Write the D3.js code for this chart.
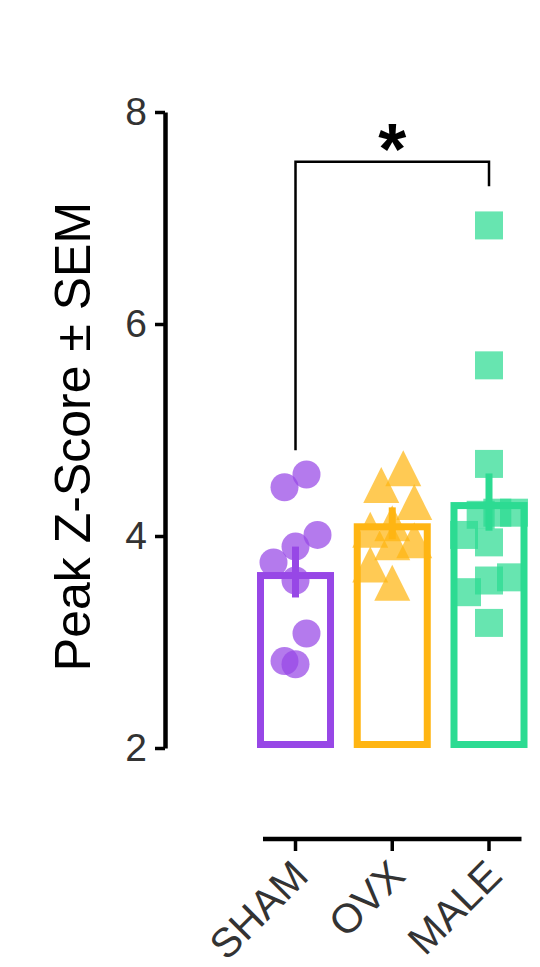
<!DOCTYPE html>
<html>
<head>
<meta charset="utf-8">
<script src="https://cdn.jsdelivr.net/npm/d3@7"></script>
<style>
  html, body { margin: 0; padding: 0; background: #fff; }
  svg { display: block; font-family: "Liberation Sans", Arial, sans-serif; }
</style>
</head>
<body>
<div id="chart"></div>
<script>
// data
const groups = ["SHAM", "OVX", "MALE"];
const shamValues = [4.58, 4.46, 4.01, 3.90, 3.75, 3.58, 3.08, 2.82, 2.79];
const ovxValues = [4.64, 4.48, 4.32, 4.12, 4.06, 3.96, 3.94, 3.73, 3.56];
const maleValues = [6.93, 5.61, 4.68, 4.22, 4.22, 4.20, 4.01, 3.94, 3.61, 3.58, 3.47, 3.18];
const means = [3.66, 4.12, 4.32];
const sems = [0.24, 0.15, 0.27];
const yTicks = [2, 4, 6, 8];
const bracketLevels = [4.81, 7.53, 7.30]; // left leg end, top, right leg end
const yLabel = "Peak Z-Score \u00B1 SEM";

const width = 540, height = 967;
const colors = ["#9747e6", "#ffb512", "#2cdb92"];
const shapes = ["circle", "triangle", "square"];
const valuesByGroup = [shamValues, ovxValues, maleValues];

const svg = d3.select("#chart")
  .append("svg")
  .attr("width", width)
  .attr("height", height);

const y = d3.scaleLinear().domain([2, 8]).range([748, 112]);

const x = d3.scaleBand()
  .domain(groups)
  .range([247.13, 537.38])
  .paddingInner(0.204)
  .paddingOuter(0.102);

const bw = x.bandwidth();
const cx = g => x(g) + bw / 2;

// simple row dodge: points in the same row get spread out, low values to the left
function dodge(values, rowH, spacing, maxSpread) {
  const pts = values.map(v => ({ v, py: y(v) })).sort((a, b) => a.py - b.py);
  const rows = [];
  pts.forEach(p => {
    const last = rows[rows.length - 1];
    if (last && p.py - last[0].py < rowH) last.push(p);
    else rows.push([p]);
  });
  rows.forEach(row => {
    row.sort((a, b) => a.v - b.v);
    const n = row.length;
    const step = n > 1 ? Math.min(spacing, maxSpread / (n - 1)) : 0;
    row.forEach((p, i) => { p.dx = (i - (n - 1) / 2) * step; });
  });
  return pts;
}

function shapePath(shape) {
  if (shape === "circle") return d3.symbol(d3.symbolCircle, Math.PI * 14 * 14)();
  if (shape === "square") return d3.symbol(d3.symbolSquare, 28 * 28)();
  // triangle centred on its bounding box
  const w = 36, h = 36;
  return `M0,${-h / 2}L${w / 2},${h / 2}L${-w / 2},${h / 2}Z`;
}

// points
groups.forEach((g, i) => {
  const pts = dodge(valuesByGroup[i], 28, 22, 50);
  svg.append("g")
    .selectAll("path")
    .data(pts)
    .enter()
    .append("path")
    .attr("d", shapePath(shapes[i]))
    .attr("transform", d => `translate(${cx(g) + d.dx},${d.py})`)
    .attr("fill", colors[i])
    .attr("fill-opacity", 0.72);
});

// bars (outline, stroke kept inside the bar)
const sw = 7;
svg.append("g")
  .selectAll("rect")
  .data(groups)
  .enter()
  .append("rect")
  .attr("x", g => x(g) + sw / 2)
  .attr("y", (g, i) => y(means[i]) + sw / 2)
  .attr("width", bw - sw)
  .attr("height", (g, i) => y(2) - y(means[i]) - sw)
  .attr("fill", "none")
  .attr("stroke", (g, i) => colors[i])
  .attr("stroke-width", sw);

// error bars
svg.append("g")
  .selectAll("line")
  .data(groups)
  .enter()
  .append("line")
  .attr("x1", g => cx(g))
  .attr("x2", g => cx(g))
  .attr("y1", (g, i) => y(means[i] + sems[i]))
  .attr("y2", (g, i) => y(means[i] - sems[i]))
  .attr("stroke", (g, i) => colors[i])
  .attr("stroke-width", 7);

// y axis
const yAxis = svg.append("g")
  .attr("transform", "translate(165,0)")
  .call(d3.axisLeft(y).tickValues(yTicks).tickFormat(d3.format("d"))
    .tickSize(10).tickSizeOuter(0).tickPadding(8));
yAxis.select(".domain").attr("stroke", "#000").attr("stroke-width", 4.5);
yAxis.selectAll(".tick line").attr("stroke", "#000").attr("stroke-width", 3.5);
yAxis.selectAll(".tick text")
  .attr("font-size", 39)
  .attr("font-family", "Liberation Sans, Arial, sans-serif")
  .attr("fill", "#333");

svg.append("text")
  .attr("transform", "translate(90,436.5) rotate(-90)")
  .attr("text-anchor", "middle")
  .attr("font-size", 50)
  .attr("fill", "#000")
  .text(yLabel);

// x axis
const xAxis = svg.append("g")
  .attr("transform", "translate(0,839)")
  .call(d3.axisBottom(x).tickSize(12).tickSizeOuter(0));
xAxis.select(".domain").remove();
xAxis.append("line")
  .attr("x1", x(groups[0]) + 6)
  .attr("x2", x(groups[2]) + bw - 6)
  .attr("stroke", "#000")
  .attr("stroke-width", 4.5);
xAxis.selectAll(".tick line").attr("stroke", "#000").attr("stroke-width", 3.5);
xAxis.selectAll(".tick text")
  .attr("x", 0).attr("y", 0).attr("dy", 0)
  .attr("transform", "translate(15,39) rotate(-45)")
  .attr("text-anchor", "end")
  .attr("font-size", 41)
  .attr("font-family", "Liberation Sans, Arial, sans-serif")
  .attr("fill", "#333");

// significance bracket
const xa = cx(groups[0]), xb = cx(groups[2]);
svg.append("path")
  .attr("d", `M${xa},${y(bracketLevels[0])}V${y(bracketLevels[1])}H${xb}V${y(bracketLevels[2])}`)
  .attr("fill", "none")
  .attr("stroke", "#000")
  .attr("stroke-width", 2.5);

svg.append("text")
  .attr("x", (xa + xb) / 2)
  .attr("y", y(bracketLevels[1]) + 12)
  .attr("text-anchor", "middle")
  .attr("font-size", 72)
  .attr("font-weight", "bold")
  .attr("fill", "#000")
  .text("*");
</script>
</body>
</html>
